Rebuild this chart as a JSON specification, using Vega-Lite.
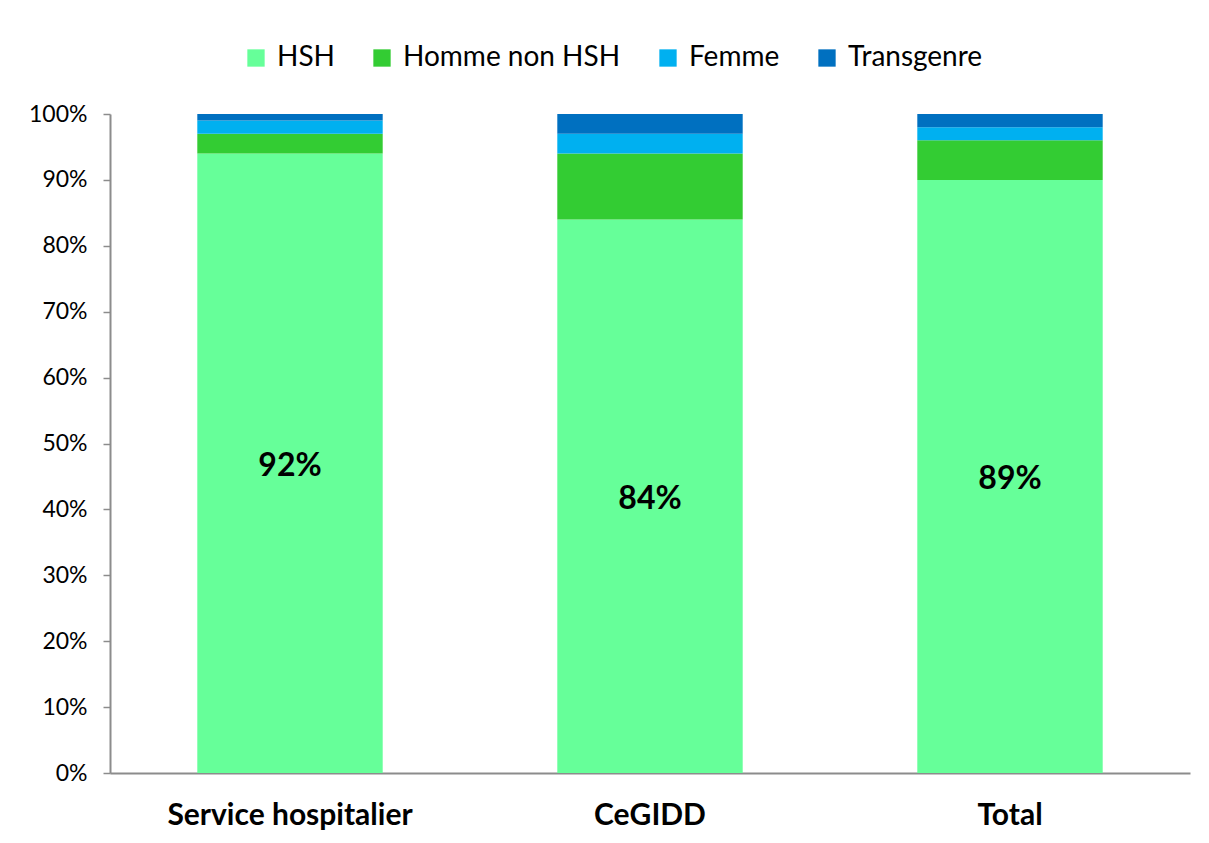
{
  "$schema": "https://vega.github.io/schema/vega-lite/v6.json",
  "autosize": {"type": "none"},
  "width": 1080,
  "height": 659,
  "padding": {"left": 110, "top": 114, "right": 19, "bottom": 70},
  "background": "white",
  "config": {
    "view": {"stroke": null},
    "font": "Lato"
  },
  "data": {
    "values": [
      {"site": "Service hospitalier", "groupe": "HSH", "ord": 1, "value": 0.94, "label": "92%"},
      {"site": "Service hospitalier", "groupe": "Homme non HSH", "ord": 2, "value": 0.03, "label": ""},
      {"site": "Service hospitalier", "groupe": "Femme", "ord": 3, "value": 0.02, "label": ""},
      {"site": "Service hospitalier", "groupe": "Transgenre", "ord": 4, "value": 0.01, "label": ""},
      {"site": "CeGIDD", "groupe": "HSH", "ord": 1, "value": 0.84, "label": "84%"},
      {"site": "CeGIDD", "groupe": "Homme non HSH", "ord": 2, "value": 0.10, "label": ""},
      {"site": "CeGIDD", "groupe": "Femme", "ord": 3, "value": 0.03, "label": ""},
      {"site": "CeGIDD", "groupe": "Transgenre", "ord": 4, "value": 0.03, "label": ""},
      {"site": "Total", "groupe": "HSH", "ord": 1, "value": 0.90, "label": "89%"},
      {"site": "Total", "groupe": "Homme non HSH", "ord": 2, "value": 0.06, "label": ""},
      {"site": "Total", "groupe": "Femme", "ord": 3, "value": 0.02, "label": ""},
      {"site": "Total", "groupe": "Transgenre", "ord": 4, "value": 0.02, "label": ""}
    ]
  },
  "encoding": {
    "x": {
      "field": "site",
      "type": "nominal",
      "sort": ["Service hospitalier", "CeGIDD", "Total"],
      "scale": {"paddingInner": 0.485, "paddingOuter": 0.2425},
      "axis": {
        "title": null,
        "labelAngle": 0,
        "labelFont": "Lato",
        "labelFontSize": 30,
        "labelFontWeight": "bold",
        "labelColor": "black",
        "labelBaseline": "alphabetic",
        "labelPadding": 51,
        "labelLimit": 600,
        "ticks": false,
        "tickSize": 0,
        "domainColor": "#8c8c8c",
        "domainWidth": 2,
        "grid": false
      }
    }
  },
  "layer": [
    {
      "mark": {"type": "bar"},
      "encoding": {
        "y": {
          "field": "value",
          "type": "quantitative",
          "stack": "zero",
          "scale": {"domain": [0, 1], "nice": false},
          "axis": {
            "title": null,
            "format": ".0%",
            "values": [0, 0.1, 0.2, 0.3, 0.4, 0.5, 0.6, 0.7, 0.8, 0.9, 1],
            "labelFont": "Lato",
            "labelFontSize": 23,
            "labelColor": "black",
            "labelPadding": 16,
            "tickSize": 7,
            "tickColor": "#8c8c8c",
            "tickWidth": 1.5,
            "domainColor": "#8c8c8c",
            "domainWidth": 2,
            "grid": false
          }
        },
        "color": {
          "field": "groupe",
          "type": "nominal",
          "scale": {
            "domain": ["HSH", "Homme non HSH", "Femme", "Transgenre"],
            "range": ["#66FF99", "#33CC33", "#00B0F0", "#0070C0"]
          },
          "legend": {
            "title": null,
            "orient": "none",
            "direction": "horizontal",
            "legendX": 132,
            "legendY": -70,
            "symbolType": "square",
            "symbolSize": 300,
            "symbolStrokeWidth": 0,
            "labelFont": "Lato",
            "labelFontSize": 28,
            "labelColor": "black",
            "labelOffset": 7,
            "columnPadding": 33,
            "labelLimit": 400
          }
        },
        "order": {"field": "ord", "type": "quantitative", "sort": "ascending"}
      }
    },
    {
      "transform": [
        {"filter": "datum.groupe === 'HSH'"},
        {"calculate": "datum.value / 2", "as": "mid"}
      ],
      "mark": {"type": "text", "font": "Lato", "fontSize": 32, "fontWeight": "bold", "color": "black", "baseline": "middle", "align": "center", "dy": 3},
      "encoding": {
        "y": {"field": "mid", "type": "quantitative"},
        "text": {"field": "label"}
      }
    }
  ]
}
